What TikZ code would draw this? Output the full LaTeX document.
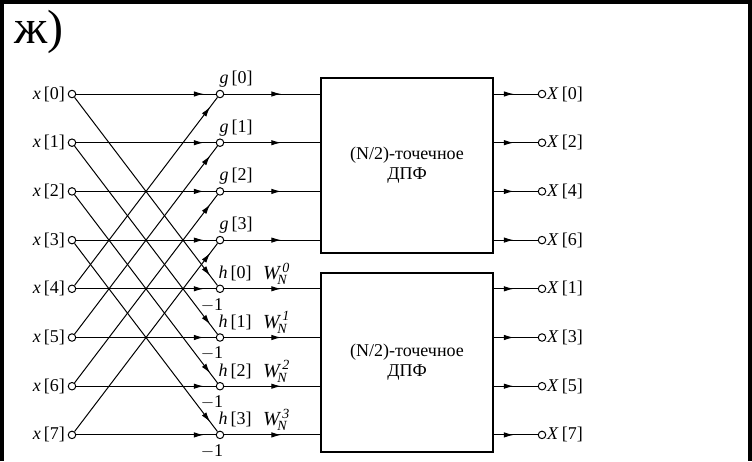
\documentclass[tikz,border=0pt]{standalone}
\usepackage{fontspec}
\setmainfont{Liberation Serif}
\usepackage{amsmath}
\usetikzlibrary{arrows.meta,decorations.markings}
\begin{document}
\begin{tikzpicture}[x=1pt,y=-1pt,
  dot/.style={circle,draw,fill=white,inner sep=0pt,minimum size=7.5pt,line width=1pt},
  lbl/.style={font=\fontsize{18}{20}\selectfont,inner sep=1pt},
  wire/.style={line width=1pt},
  arrowat/.style={wire,postaction={decorate},decoration={markings,mark=at position #1 with {\arrow{Latex[length=10pt,width=5.5pt]}}}},
  dftbox/.style={draw,line width=1.6pt,minimum width=172pt,minimum height=175pt,align=center,font=\fontsize{18}{20}\selectfont},
  frame/.style={line width=3.5pt,line join=miter}
]
\useasboundingbox (0,0) rectangle (752,461);
\draw[frame] (1.75,461) -- (1.75,2) -- (750,2) -- (750,461);
\node[font=\fontsize{48}{48}\selectfont,anchor=base west,inner sep=0pt] (title) at (14,43) {ж)};

% DFT boxes
\node[dftbox] (B1) at (407,165.5) {(N/2)-точечное\\ДПФ};
\node[dftbox,minimum height=179pt] (B2) at (407,362.5) {(N/2)-точечное\\ДПФ};

% inputs
\foreach \k in {0,...,7}{
  \pgfmathsetmacro\yy{94+48.7*\k}
  \node[dot] (in\k) at (72,\yy) {};
  \node[lbl,anchor=east] (xl\k) at (66,\yy) {\textit{x}\,[\k]};
  \node[dot] (o\k) at (542,\yy) {};
}
% outputs labels
\foreach \k/\n in {0/0,1/2,2/4,3/6,4/1,5/3,6/5,7/7}{
  \node[lbl,anchor=west] (Xl\k) at (546,{94+48.7*\k}) {\textit{X}\,[\n]};
}
% butterfly middle nodes
\foreach \k in {0,...,3}{
  \pgfmathsetmacro\yg{94+48.7*\k}
  \pgfmathsetmacro\yh{94+48.7*(\k+4)}
  \node[dot] (g\k) at (220,\yg) {};
  \node[dot] (h\k) at (220,\yh) {};
  \node[lbl] (gl\k) at (236,\yg-15) {\textit{g}\,[\k]};
  \node[lbl] (hl\k) at (235,\yh-15) {\textit{h}\,[\k]};
  \node[lbl,anchor=west,font=\fontsize{20}{22}\selectfont] (wl\k) at (262,\yh-15) {$\textit{W}^{\,\textit{\k}}_{\!\textit{N}}$};
  \node[lbl] (ml\k) at (212,\yh+16) {$-$1};
}
% connectors
\foreach \k in {0,...,3}{
  \pgfmathtruncatemacro\j{\k+4}
  \draw[arrowat=-12pt] (in\k) -- (g\k);
  \draw[arrowat=-12pt] (in\j) -- (h\k);
  \draw[arrowat=-12pt] (in\k) -- (h\k);
  \draw[arrowat=-12pt] (in\j) -- (g\k);
  \draw[arrowat=57pt] (g\k) -- (g\k -| B1.west);
  \draw[arrowat=57pt] (h\k) -- (h\k -| B2.west);
  \draw[arrowat=20pt] (B1.east |- o\k) -- (o\k);
  \draw[arrowat=20pt] (B2.east |- o\j) -- (o\j);
}
\end{tikzpicture}
\end{document}
